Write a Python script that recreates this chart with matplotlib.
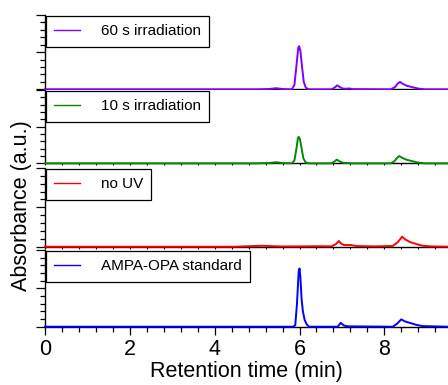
import numpy as np
import matplotlib.pyplot as plt
from matplotlib.ticker import MultipleLocator, NullFormatter

plt.rcParams['font.family'] = ['Liberation Sans', 'DejaVu Sans']

# chromatogram traces: retention time (min) and absorbance (a.u.), top to bottom
t_60s = [0.0, 5.0, 5.3, 5.45, 5.6, 5.82, 5.88, 5.93, 5.97, 5.99, 6.02, 6.06, 6.10, 6.15, 6.22,
         6.75, 6.82, 6.89, 6.95, 7.02, 7.10, 7.17, 7.25, 8.15, 8.25, 8.32, 8.37, 8.43, 8.52,
         8.65, 8.80, 8.95, 9.5]
a_60s = [0.0, 0.0, 0.005, 0.015, 0.004, 0.0, 0.06, 0.33, 0.56, 0.58, 0.52, 0.30, 0.10, 0.02, 0.0,
         0.0, 0.02, 0.054, 0.03, 0.01, 0.008, 0.012, 0.003, 0.0, 0.03, 0.08, 0.10, 0.075, 0.05,
         0.03, 0.01, 0.0, 0.0]

t_10s = [0.0, 5.0, 5.3, 5.45, 5.6, 5.82, 5.88, 5.93, 5.96, 5.98, 6.01, 6.05, 6.09, 6.14, 6.22,
         6.75, 6.81, 6.88, 6.95, 7.02, 7.25, 8.15, 8.24, 8.30, 8.35, 8.42, 8.52, 8.65, 8.80,
         8.95, 9.5]
a_10s = [0.0, 0.0, 0.005, 0.015, 0.004, 0.0, 0.04, 0.21, 0.34, 0.363, 0.33, 0.20, 0.07, 0.015, 0.0,
         0.0, 0.02, 0.05, 0.025, 0.008, 0.0, 0.0, 0.03, 0.075, 0.10, 0.075, 0.05, 0.03, 0.01,
         0.0, 0.0]

t_noUV = [0.0, 4.5, 4.8, 5.1, 5.3, 5.6, 6.0, 6.4, 6.75, 6.85, 6.93, 6.98, 7.05, 7.2, 7.35,
          7.8, 8.2, 8.32, 8.42, 8.5, 8.6, 8.75, 8.9, 9.1, 9.5]
a_noUV = [0.0, 0.0, 0.006, 0.012, 0.008, 0.003, 0.004, 0.006, 0.005, 0.03, 0.072, 0.04, 0.02,
          0.022, 0.008, 0.004, 0.01, 0.06, 0.127, 0.09, 0.06, 0.035, 0.012, 0.004, 0.0]

t_std = [0.0, 5.85, 5.9, 5.94, 5.98, 6.0, 6.02, 6.05, 6.08, 6.12, 6.17, 6.22, 6.9, 6.97, 7.05,
         7.15, 8.2, 8.3, 8.4, 8.48, 8.6, 8.75, 8.9, 9.5]
a_std = [0.0, 0.0, 0.02, 0.30, 0.72, 0.76, 0.65, 0.35, 0.20, 0.09, 0.03, 0.0, 0.0, 0.05, 0.015,
         0.005, 0.0, 0.04, 0.096, 0.07, 0.05, 0.025, 0.008, 0.0]

labels = ['60 s irradiation', '10 s irradiation', 'no UV', 'AMPA-OPA standard']
colors = ['#8000ff', '#008a00', '#ff0000', '#0000ff']
traces = [(t_60s, a_60s), (t_10s, a_10s), (t_noUV, a_noUV), (t_std, a_std)]

fig = plt.figure(figsize=(4.48, 3.85), dpi=100)

# stacked panels (left, bottom, width, height) in figure fraction
boxes = [(0.1004, 0.768, 0.8996, 0.193),
         (0.1004, 0.5758, 0.8996, 0.190),
         (0.1004, 0.3592, 0.8996, 0.2044),
         (0.1004, 0.1514, 0.8996, 0.1992)]

for i, (box, (t, a), lab, col) in enumerate(zip(boxes, traces, labels, colors)):
    ax = fig.add_axes(box)
    ax.plot(t, a, color=col, lw=1.4, label=lab, clip_on=False, zorder=3)
    ax.set_xlim(0, 9.5)
    ax.set_ylim(0, 1)
    for s in ['top', 'right']:
        ax.spines[s].set_visible(False)
    ax.spines['left'].set_linewidth(1.0)
    ax.spines['bottom'].set_linewidth(1.0)

    ax.yaxis.set_major_locator(MultipleLocator(0.5))
    ax.yaxis.set_minor_locator(MultipleLocator(0.1))
    ax.yaxis.set_major_formatter(NullFormatter())
    ax.tick_params(axis='y', which='major', direction='out', length=6.5, width=0.9)
    ax.tick_params(axis='y', which='minor', direction='out', length=3.6, width=0.9)

    ax.xaxis.set_major_locator(MultipleLocator(2))
    ax.xaxis.set_minor_locator(MultipleLocator(0.4))
    if i < 3:
        ax.xaxis.set_major_formatter(NullFormatter())
        ax.tick_params(axis='x', which='both', direction='out', length=1.5, width=0.8)
    else:
        ax.tick_params(axis='x', which='major', direction='out', length=6, width=0.9,
                       labelsize=15.5, pad=2.5)
        ax.tick_params(axis='x', which='minor', direction='out', length=3.6, width=0.9)
        ax.set_xlabel('Retention time (min)', fontsize=15.5, labelpad=1)

    leg = ax.legend(loc='upper left', bbox_to_anchor=(0, 1), borderaxespad=0.05,
                    fontsize=11, frameon=True, fancybox=False, framealpha=1,
                    edgecolor='black', borderpad=0.55, handlelength=1.7,
                    handletextpad=1.35)
    leg.get_frame().set_linewidth(0.9)
    for ln in leg.get_lines():
        ln.set_linewidth(1.0)

fig.text(0.047, 0.465, 'Absorbance (a.u.)', rotation=90, fontsize=15.5,
         ha='center', va='center')

fig.savefig('out.png', dpi=100)
